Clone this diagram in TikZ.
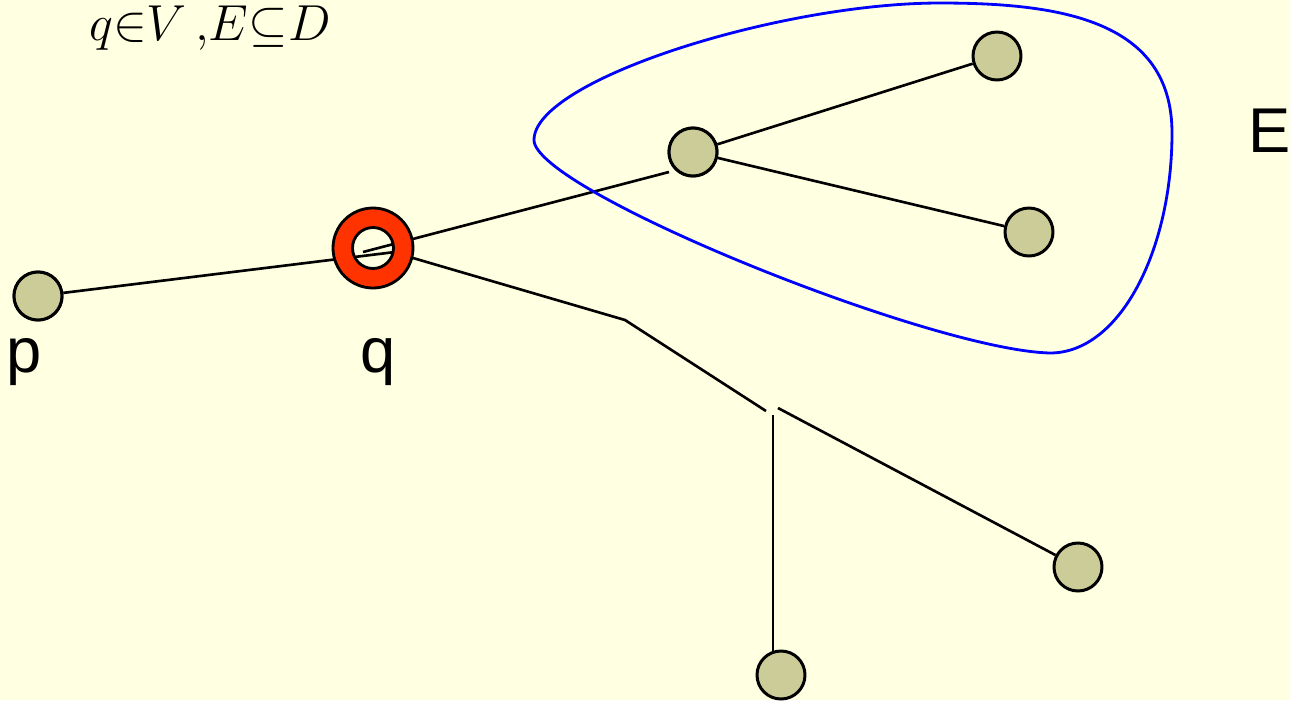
\documentclass[tikz,border=0pt]{standalone}
\usepackage{fontspec}
\setmainfont{Liberation Sans}
\usepackage{tikz}
\usetikzlibrary{calc}
\definecolor{bgyellow}{RGB}{255,255,226}
\definecolor{vertfill}{RGB}{204,204,153}
\definecolor{ringred}{RGB}{255,51,0}
\tikzset{vert/.style={circle,draw,line width=0.85pt,fill=vertfill,minimum size=0.48cm,inner sep=0pt},
  edge/.style={line width=0.75pt},
  lbl/.style={font=\fontsize{18}{20}\selectfont}}

\begin{document}
\begin{tikzpicture}[line join=round]
\fill[bgyellow] (0,0) rectangle (12.9,7.0);
\useasboundingbox (0,0) rectangle (12.9,7.0);
% --- vertices
\node[vert] (p) at (0.38,4.04) {};
\coordinate (q) at (3.73,4.52);
\node[vert] (a) at (6.93,5.48) {};
\node[vert] (b) at (9.97,6.44) {};
\node[vert] (c) at (10.29,4.68) {};
\node[vert] (d) at (10.78,1.33) {};
\node[vert] (e) at (7.81,0.25) {};
% --- loose ends of the broken branch
\coordinate (qin1) at (3.95,4.48); \coordinate (qin2) at (3.63,4.48);
\coordinate (aend) at (6.69,5.28);
\coordinate (qout) at (4.13,4.42); \coordinate (bend) at (6.25,3.80);
\coordinate (jend) at (7.66,2.89);
\coordinate (vtop) at (7.73,2.85); \coordinate (vbot) at (7.73,0.48);
\coordinate (dstart) at (7.78,2.92);
% --- edges
\draw[edge] (p) -- (qin1);
\draw[edge] (qin2) -- (aend);
\draw[edge] (a) -- (b); \draw[edge] (a) -- (c);
\draw[edge] (qout) -- (bend) -- (jend);
\draw[edge] (vtop) -- (vbot);
\draw[edge] (dstart) -- (d);
% --- q as a ring
\draw[line width=0.8pt,fill=ringred,even odd rule] (q) circle (0.40) (q) circle (0.205);
\node[vert] at (a) {}; \node[vert] at (p) {};
% --- the set E
\draw[blue,line width=0.8pt] (5.34,5.60) .. controls (5.34,6.2) and (7.8,6.97) .. (9.4,6.97)
  .. controls (10.6,6.97) and (11.72,6.8) .. (11.72,5.67)
  .. controls (11.72,4.5) and (11.2,3.47) .. (10.5,3.47)
  .. controls (9.3,3.5) and (5.34,5.1) .. cycle;
% --- labels
\node[lbl,anchor=base west,inner sep=0pt] (plbl) at (0.06,3.28) {p};
\node[lbl,anchor=base,inner sep=0pt] (qlbl) at (3.78,3.28) {q};
\node[lbl,anchor=base west,inner sep=0pt] (elbl) at (12.48,5.48) {E};
\node[anchor=base,inner sep=0pt,font=\fontsize{13.5}{15}\selectfont] (form) at (2.10,6.60) {$q{\in}V\,{,}E{\subseteq}D$};
\end{tikzpicture}
\end{document}
